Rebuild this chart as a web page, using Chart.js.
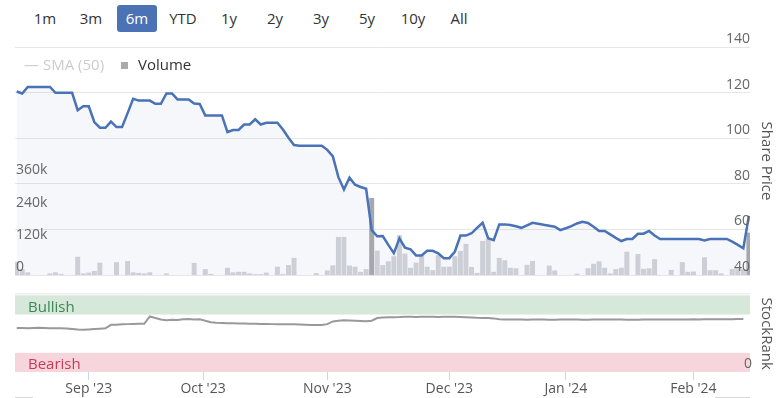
<!DOCTYPE html>
<html><head><meta charset="utf-8">
<script src="https://cdn.jsdelivr.net/npm/chart.js@4.4.1/dist/chart.umd.min.js"></script>
<style>
html,body{margin:0;padding:0;background:#fff;}
body{width:783px;height:398px;position:relative;overflow:hidden;font-family:'Open Sans',sans-serif;}
#c1{position:absolute;left:0;top:0;}
#c2{position:absolute;left:0;top:285px;}
.btn{position:absolute;top:5px;width:40px;height:27px;line-height:27px;text-align:center;font-size:15px;color:#333;border-radius:3px;}
.btn.sel{background:#4c72b6;color:#fff;}
.lg{position:absolute;top:54px;font-size:15px;line-height:20px;white-space:nowrap;}
.hl{position:absolute;top:397px;height:1px;background:#d8d8d8;}
</style></head>
<body>
<div id="buttons"></div>
<canvas id="c1" width="783" height="285"></canvas>
<canvas id="c2" width="783" height="113"></canvas>
<div class="lg" style="left:24px;color:#cccccc;">—</div>
<div class="lg" style="left:43px;color:#cccccc;">SMA (50)</div>
<div style="position:absolute;left:121px;top:62px;width:7px;height:7px;background:#aaaaaa;"></div>
<div class="lg" style="left:138px;color:#333;">Volume</div>
<div class="hl" style="left:15px;width:18px;"></div>
<div class="hl" style="left:715px;width:35px;"></div>
<script>
const rangeButtons = ['1m','3m','6m','YTD','1y','2y','3y','5y','10y','All'];
const selectedRange = '6m';

const priceValues = [
 120.5,119.6,122.5,122.5,122.5,122.5,122.5,119.9,119.9,119.9,
 119.9,112.3,114,114,107.1,104.6,104.6,107.3,104.9,104.9,
 111,117.3,116.5,116.5,116.5,115.1,115.1,119.6,119.6,117,
 117,117,115.2,115,110,110,110,110,102.7,103.6,
 103.6,106,106,108.3,106,106.8,106.8,106.8,103.8,100.2,
 97,96.7,96.7,96.7,96.7,96.7,94.9,92,82.9,77.5,
 82.7,79.6,78.6,77.8,59.7,57,57.1,53.2,49.6,56.1,
 52,51.3,48.6,48.6,50.6,50.6,49.5,47.4,47.4,50.3,
 57.3,57.3,58.3,60.7,62.9,56.1,55.3,62.2,62.2,61.9,
 61.4,60.7,61.8,62.9,62.5,62,61.6,61.2,59.7,60.5,
 61.4,62.6,63.3,62.8,61.2,59.3,59.3,57.8,56.3,54.9,
 55.8,55.8,58.1,58.1,59.3,57.3,55.8,55.8,55.8,55.8,
 55.8,55.8,55.8,55.8,55.1,55.8,55.8,55.8,55.8,54.6,
 53.2,51.7,66
];

const volumeValues = [
 50000,22000,10000,0,0,0,6000,10000,4000,0,
 0,68000,6000,9000,15000,46000,0,0,48000,0,
 52000,10000,8000,6000,10000,0,0,6000,0,0,
 0,0,45000,0,22000,4000,0,0,27000,10000,
 12000,12000,6000,3000,3000,9000,0,31000,4000,37000,
 64000,0,0,0,7000,0,17000,36000,142000,142000,
 35000,31000,12000,22000,287000,91000,37000,51000,70000,149000,
 80000,27000,46000,74000,31000,18000,74000,31000,31000,70000,
 90000,116000,30000,8000,127000,136000,12000,64000,55000,27000,
 25000,0,38000,52000,0,0,35000,17000,0,0,
 0,5000,0,25000,42000,51000,27000,6000,22000,27000,
 87000,0,78000,23000,25000,59000,0,0,19000,0,
 48000,12000,13000,0,66000,18000,18000,6000,0,22000,
 22000,22000,158000
];

const stockRankValues = [
 57.5,57.5,57.2,57.5,57.8,57.5,57.2,57.2,57,56.8,
 56.2,55.5,55,55.5,56,56.5,57,61.6,61.8,62.2,
 62.5,62.8,62.9,63,72.5,70.5,68.5,67.5,68.3,68,
 68.8,69.1,68.5,68.8,67,65,64.2,64,63.8,63.6,
 63.4,63.2,63,62.9,62.8,62.6,62.5,62.5,62.3,62.2,
 62.2,62,61.8,61.5,61.3,61.5,62.5,66,66.8,67.5,
 67.2,66.9,66.6,66.4,67,70.4,71,71.4,71.6,71.7,
 72,72.1,71.9,72,72.2,72.1,71.9,72,72.1,72,
 71.8,71.5,71.2,70.8,70.6,70.4,70,68.8,68.6,68.5,
 68.6,68.4,68.3,68.5,68.6,68.4,68.2,68.3,68.5,68.4,
 68.6,68.5,68.3,68.2,68.4,68.5,68.6,68.5,68.4,68.5,
 68.3,68.2,68.3,68.5,68.6,68.7,68.6,68.5,68.4,68.5,
 68.6,68.7,68.8,68.7,68.8,68.9,69,68.9,68.9,69,
 69.1,69.1,null
];

const monthTickPositions = [13, 33.6, 56, 78, 99, 122];
const monthTickLabels = ["Sep '23","Oct '23","Nov '23","Dec '23","Jan '24","Feb '24"];
const priceTicks = [40, 60, 80, 100, 120, 140];
const volumeTicks = [0, 120000, 240000, 360000];
const rankTicks = [0];
const rankBands = [
  {from: 75, to: 100, label: 'Bullish', fill: '#d5e8da', text: '#3d8755'},
  {from: 0, to: 25, label: 'Bearish', fill: '#f6d6dc', text: '#c93a55'}
];

// range buttons
const bdiv = document.getElementById('buttons');
rangeButtons.forEach((t, k) => {
  const d = document.createElement('div');
  d.className = 'btn' + (t === selectedRange ? ' sel' : '');
  d.style.left = (25 + 46 * k) + 'px';
  d.textContent = t;
  bdiv.appendChild(d);
});

Chart.defaults.font.family = "'Open Sans', sans-serif";
Chart.defaults.animation = false;

const xMin = -0.3, xMax = 132.2;
const pricePts = priceValues.map((v, i) => ({x: i, y: v}));
const volPts = volumeValues.map((v, i) => ({x: i, y: v}));
const rankPts = stockRankValues.map((v, i) => ({x: i, y: v}));
const volColors = volumeValues.map((v, i) => {
  if (i === 0) return '#cdcfd6';
  const ch = Math.abs(priceValues[i] - priceValues[i - 1]) / priceValues[i - 1];
  return ch > 0.2 ? '#a7a8ad' : '#cdcfd6';
});

new Chart(document.getElementById('c1'), {
  type: 'bar',
  data: {
    datasets: [
      {
        type: 'line', label: 'Share Price', data: pricePts, yAxisID: 'price', xAxisID: 'x',
        borderColor: '#4a72b6', borderWidth: 2.5, pointRadius: 0, tension: 0,
        fill: 'start', backgroundColor: 'rgba(74,114,182,0.055)', order: 0
      },
      {
        type: 'bar', label: 'Volume', data: volPts, yAxisID: 'vol', xAxisID: 'x',
        backgroundColor: volColors, barPercentage: 0.9, categoryPercentage: 1, order: 1
      }
    ]
  },
  options: {
    responsive: false,
    layout: {padding: {left: 15, top: 47, bottom: 10, right: 0}},
    plugins: {legend: {display: false}, tooltip: {enabled: false}, filler: {drawTime: 'beforeDatasetsDraw'}},
    scales: {
      x: {type: 'linear', min: xMin, max: xMax, display: false, offset: false, grid: {offset: false}},
      price: {
        type: 'linear', position: 'right', min: 40, max: 140,
        afterBuildTicks: s => { s.ticks = priceTicks.map(v => ({value: v})); },
        afterFit: s => { s.width = 33; },
        ticks: {mirror: true, padding: 0, labelOffset: -8, color: '#666', font: {size: 14}, z: 1},
        grid: {color: '#e6e6e6', lineWidth: 1, drawTicks: false},
        border: {display: false},
        title: {display: true, text: 'Share Price', color: '#555', font: {size: 15}, padding: {top: 8, bottom: 0}}
      },
      vol: {
        type: 'linear', position: 'left', min: 0, max: 850000,
        afterBuildTicks: s => { s.ticks = volumeTicks.map(v => ({value: v})); },
        afterFit: s => { s.width = 0; },
        ticks: {mirror: true, padding: 1, labelOffset: -8, color: '#666', font: {size: 14}, z: 1,
          callback: v => v === 0 ? '0' : (v / 1000) + 'k'},
        grid: {display: false}, border: {display: false}
      }
    }
  }
});

const bandPlugin = {
  id: 'bands',
  beforeDraw(chart) {
    const {ctx, chartArea} = chart;
    const y = chart.scales.rank;
    ctx.save();
    rankBands.forEach(b => {
      const top = y.getPixelForValue(b.to), bot = y.getPixelForValue(b.from);
      ctx.fillStyle = b.fill;
      ctx.fillRect(chartArea.left, top, chartArea.right - chartArea.left, bot - top);
      ctx.fillStyle = b.text;
      ctx.font = "15px 'Open Sans', sans-serif";
      ctx.textBaseline = 'alphabetic';
      ctx.textAlign = 'left';
      ctx.fillText(b.label, chartArea.left + 13, bot - 3);
    });
    ctx.strokeStyle = '#e6e6e6';
    ctx.lineWidth = 1;
    ctx.beginPath();
    ctx.moveTo(chartArea.left, chartArea.top - 1.5);
    ctx.lineTo(chartArea.right, chartArea.top - 1.5);
    ctx.stroke();
    ctx.restore();
  }
};

new Chart(document.getElementById('c2'), {
  type: 'line',
  data: {
    datasets: [{
      label: 'StockRank', data: rankPts, yAxisID: 'rank', xAxisID: 'x',
      borderColor: '#999999', borderWidth: 2, pointRadius: 0, tension: 0, fill: false
    }]
  },
  options: {
    responsive: false,
    layout: {padding: {left: 15, top: 7, bottom: 0, right: 0}},
    plugins: {legend: {display: false}, tooltip: {enabled: false}},
    scales: {
      x: {
        type: 'linear', min: xMin, max: xMax, position: 'bottom',
        afterBuildTicks: s => { s.ticks = monthTickPositions.map(v => ({value: v})); },
        afterFit: s => { s.height = 26; },
        ticks: {autoSkip: false, maxRotation: 0, color: '#555', font: {size: 14}, padding: 1,
          callback: (v, idx) => monthTickLabels[idx]},
        grid: {drawOnChartArea: false, drawTicks: true, tickLength: 8, color: '#ccd6eb'},
        border: {display: false}
      },
      rank: {
        type: 'linear', position: 'right', min: 0, max: 100,
        afterBuildTicks: s => { s.ticks = rankTicks.map(v => ({value: v})); },
        afterFit: s => { s.width = 33; },
        ticks: {mirror: true, padding: 2, labelOffset: -8, color: '#666', font: {size: 14}, z: 1},
        grid: {display: false}, border: {display: false},
        title: {display: true, text: 'StockRank', color: '#555', font: {size: 15}, padding: {top: 8, bottom: 0}}
      }
    }
  },
  plugins: [bandPlugin]
});
</script>
</body></html>
